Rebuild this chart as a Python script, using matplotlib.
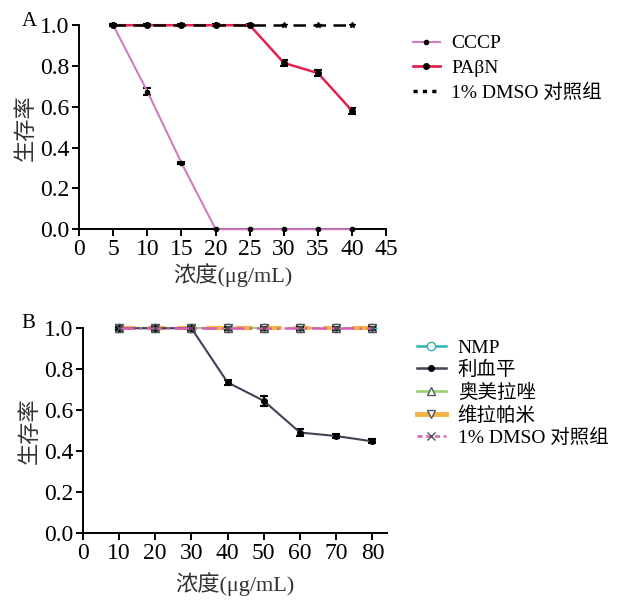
import matplotlib
matplotlib.use("Agg")
import matplotlib.pyplot as plt
from matplotlib.lines import Line2D

plt.rcParams['font.family'] = ['Liberation Serif', 'Noto Sans CJK SC', 'DejaVu Sans']

# ---- Panel A data ----
xa = [5, 10, 15, 20, 25, 30, 35, 40]
cccp = [1.0, 0.675, 0.325, 0.0, 0.0, 0.0, 0.0, 0.0]
cccp_err = [0.005, 0.015, 0.005, 0.0, 0.0, 0.0, 0.0, 0.0]
pabn = [1.0, 1.0, 1.0, 1.0, 1.0, 0.815, 0.765, 0.58]
pabn_err = [0.005, 0.005, 0.005, 0.005, 0.005, 0.015, 0.015, 0.015]
dmso_a = [1.0, 1.0, 1.0, 1.0, 1.0, 1.0, 1.0, 1.0]
labels_a = ['CCCP', 'PAβN', '1% DMSO 对照组']

# ---- Panel B data ----
xb = [10, 20, 30, 40, 50, 60, 70, 80]
nmp = [1.0] * 8
reserpine = [1.0, 1.0, 1.0, 0.735, 0.645, 0.49, 0.473, 0.447]
reserpine_err = [0.008, 0.008, 0.008, 0.012, 0.025, 0.015, 0.012, 0.01]
omeprazole = [1.0] * 8
verapamil = [1.0] * 8
dmso_b = [1.0] * 8
flat_err = [0.008] * 8
labels_b = ['NMP', '利血平', '奥美拉唑', '维拉帕米', '1% DMSO 对照组']

fig = plt.figure(figsize=(6.18, 6.0), dpi=100)
axA = fig.add_axes([0.128, 0.618, 0.497, 0.340])
axB = fig.add_axes([0.134, 0.112, 0.492, 0.341])

tick_fs = 17
lab_fs = 16

def style(ax, xpad):
    for s in ['top', 'right']:
        ax.spines[s].set_visible(False)
    for s in ['left', 'bottom']:
        ax.spines[s].set_linewidth(1.4)
    ax.tick_params(direction='out', length=5, width=1.4, labelsize=tick_fs, pad=2)
    ax.set_ylim(0, 1.0)
    ax.set_yticks([0, 0.2, 0.4, 0.6, 0.8, 1.0])
    ax.set_yticklabels(['0.0', '0.2', '0.4', '0.6', '0.8', '1.0'])
    ax.set_ylabel('生存率', fontsize=lab_fs, labelpad=2, color='#333333')
    ax.set_xlabel('浓度(μg/mL)', fontsize=lab_fs, labelpad=xpad, color='#333333')

# Panel A
axA.errorbar(xa, cccp, yerr=cccp_err, color='#d27bc4', lw=1.5, marker='o', ms=3,
             mfc='black', mec='black', ecolor='black', elinewidth=1.5, capsize=3,
             capthick=1.5, clip_on=False, zorder=3)
axA.errorbar(xa, pabn, yerr=pabn_err, color='#e2224e', lw=1.8, marker='o', ms=4,
             mfc='black', mec='black', ecolor='black', elinewidth=1.5, capsize=3,
             capthick=1.5, clip_on=False, zorder=3)
axA.plot(xa, dmso_a, color='black', lw=1.8, ls=(0, (5, 3)), marker='*', ms=4,
         clip_on=False, zorder=4)
axA.set_xlim(0, 45)
axA.set_xticks(range(0, 50, 5))
style(axA, 2)

ha = [Line2D([], [], color='#d27bc4', lw=1.5, marker='o', ms=3, mfc='black', mec='black'),
      Line2D([], [], color='#e2224e', lw=2.0, marker='o', ms=4, mfc='black', mec='black'),
      Line2D([], [], color='black', lw=2.5, ls=(0, (1.2, 1.5)))]
fig.legend(ha, labels_a, loc='upper left', bbox_to_anchor=(0.655, 0.955),
           frameon=False, fontsize=14, handlelength=1.4, handletextpad=0.6,
           labelspacing=0.35, borderaxespad=0)

# Panel B
axB.errorbar(xb, nmp, yerr=flat_err, color='#2fb3b0', lw=1.5, ls=(0, (6, 3)),
             marker='o', ms=6, mfc='white', mec='#2fb3b0', ecolor='black',
             elinewidth=1.2, capsize=3, capthick=1.2, clip_on=False, zorder=2)
axB.errorbar(xb, reserpine, yerr=reserpine_err, color='#3f4255', lw=1.5,
             marker='o', ms=4, mfc='black', mec='black', ecolor='black',
             elinewidth=1.5, capsize=3, capthick=1.5, clip_on=False, zorder=4)
axB.errorbar(xb, omeprazole, yerr=flat_err, color='#92d06a', lw=1.5,
             ls=(0, (6, 3)), marker='^', ms=6, mfc='white', mec='#555555',
             ecolor='black', elinewidth=1.2, capsize=3, capthick=1.2,
             clip_on=False, zorder=2)
axB.errorbar(xb, verapamil, yerr=flat_err, color='#f6b244', lw=3,
             ls=(0, (4, 3)), marker='v', ms=6, mfc='white', mec='#555555',
             ecolor='black', elinewidth=1.2, capsize=3, capthick=1.2,
             clip_on=False, zorder=3)
axB.errorbar(xb, dmso_b, yerr=flat_err, color='#d45fb8', lw=1.8,
             ls=(0, (6, 2, 1, 2)), marker='x', ms=6, mec='#555555',
             ecolor='black', elinewidth=1.2, capsize=3, capthick=1.2,
             clip_on=False, zorder=5)
axB.set_xlim(0, 84)
axB.set_xticks(range(0, 90, 10))
style(axB, 6)

hb = [Line2D([], [], color='#2fb3b0', lw=1.8, marker='o', ms=6, mfc='white', mec='#2fb3b0'),
      Line2D([], [], color='#3f4255', lw=1.8, marker='o', ms=4, mfc='black', mec='black'),
      Line2D([], [], color='#92d06a', lw=1.8, marker='^', ms=6, mfc='white', mec='#555555'),
      Line2D([], [], color='#f6b244', lw=3.5, marker='v', ms=6, mfc='white', mec='#555555'),
      Line2D([], [], color='#d45fb8', lw=1.8, ls=(0, (2, 1.5)), marker='x', ms=6, mec='#555555')]
fig.legend(hb, labels_b, loc='upper left', bbox_to_anchor=(0.662, 0.448),
           frameon=False, fontsize=14, handlelength=1.5, handletextpad=0.6,
           labelspacing=0.22, borderaxespad=0)

fig.text(0.035, 0.965, 'A', fontsize=15, ha='left', va='center')
fig.text(0.035, 0.46, 'B', fontsize=15, ha='left', va='center')

fig.savefig('out.png', dpi=100)
